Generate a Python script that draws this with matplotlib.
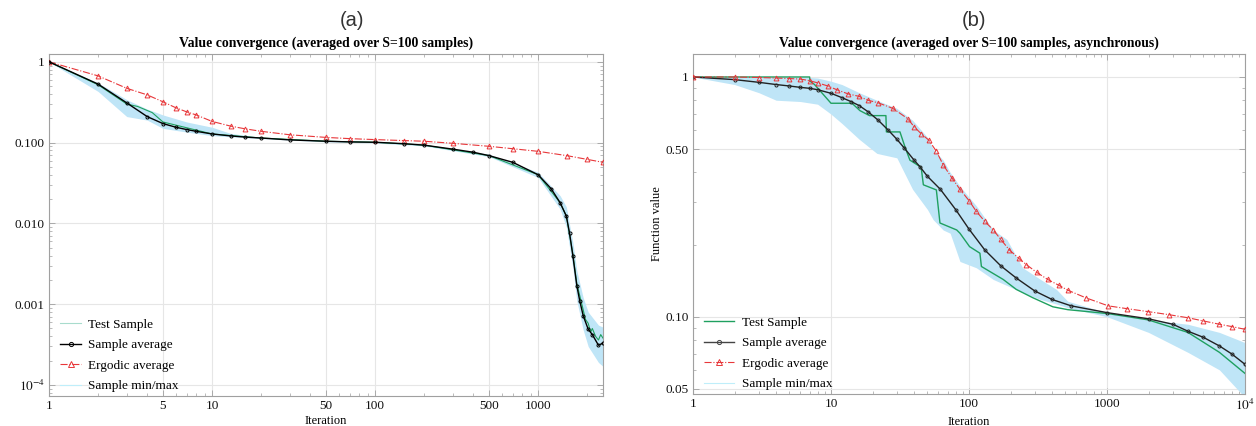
import matplotlib
matplotlib.use("Agg")
import matplotlib.pyplot as plt
from matplotlib.ticker import FixedLocator, NullFormatter, FixedFormatter
from matplotlib.lines import Line2D

plt.rcParams['font.family'] = ['Liberation Serif', 'DejaVu Serif']
plt.rcParams['mathtext.fontset'] = 'stix'

# ---------------- Panel (a) data ----------------
a_avg_it = [1, 2, 3, 4, 5, 6, 7, 8, 10, 13, 16, 20, 30, 50, 70, 100, 150, 200, 300, 400,
            500, 700, 1000, 1200, 1365, 1490, 1560, 1633, 1727, 1800, 1890, 2028, 2150, 2345, 2500]
a_avg_val = [1.0, 0.53, 0.31, 0.21, 0.172, 0.155, 0.145, 0.138, 0.128, 0.121, 0.117, 0.114, 0.108,
             0.104, 0.102, 0.101, 0.097, 0.093, 0.083, 0.076, 0.069, 0.057, 0.040, 0.027, 0.018,
             0.0123, 0.0075, 0.0040, 0.0017, 0.0011, 0.00072, 0.00049, 0.00042, 0.00031, 0.00033]

a_erg_it = [1, 2, 3, 4, 5, 6, 7, 8, 10, 13, 16, 20, 30, 50, 70, 100, 150, 200, 300, 500,
            700, 1000, 1500, 2000, 2500]
a_erg_val = [1.0, 0.67, 0.47, 0.39, 0.32, 0.27, 0.24, 0.22, 0.183, 0.160, 0.148, 0.138, 0.125,
             0.116, 0.112, 0.109, 0.106, 0.104, 0.098, 0.090, 0.084, 0.078, 0.069, 0.062, 0.057]

a_test_it = [1, 2, 3, 3.5, 4.3, 5, 10, 20, 50, 100, 200, 500, 1000, 1365, 1490, 1633, 1727,
             1890, 1950, 2028, 2100, 2150, 2250, 2345, 2420, 2500]
a_test_val = [1.0, 0.52, 0.30, 0.28, 0.235, 0.18, 0.128, 0.114, 0.104, 0.101, 0.093, 0.069,
              0.040, 0.018, 0.0123, 0.0042, 0.0018, 0.00085, 0.00065, 0.00058, 0.00045, 0.00050,
              0.00040, 0.00036, 0.00042, 0.00038]

a_band_it = [1, 2, 3, 4, 5, 7, 10, 13, 20, 50, 100, 200, 500, 1000, 1365, 1490, 1633, 1727,
             1890, 2028, 2345, 2500]
a_band_hi = [1.0, 0.55, 0.34, 0.26, 0.22, 0.18, 0.155, 0.13, 0.116, 0.106, 0.103, 0.095, 0.072,
             0.043, 0.022, 0.016, 0.0058, 0.0026, 0.0012, 0.00080, 0.00055, 0.00052]
a_band_lo = [1.0, 0.43, 0.21, 0.19, 0.15, 0.135, 0.122, 0.118, 0.112, 0.102, 0.099, 0.091, 0.067,
             0.037, 0.015, 0.009, 0.0028, 0.0011, 0.00048, 0.00030, 0.00019, 0.00017]

a_xticks = [1, 5, 10, 50, 100, 500, 1000]
a_xlabels = ['1', '5', '10', '50', '100', '500', '1000']
a_yticks = [1, 0.1, 0.01, 0.001, 0.0001]
a_ylabels = ['1', '0.100', '0.010', '0.001', r'$10^{-4}$']

# ---------------- Panel (b) data ----------------
b_avg_it = [1, 2, 3, 4, 5, 6, 7, 8, 10, 12, 14, 16, 18.5, 22, 26, 30, 34, 40, 44, 50, 62, 80,
            100, 130, 170, 220, 300, 400, 550, 1000, 2000, 3000, 3860, 5000, 6530, 8000, 10000]
b_avg_val = [1.0, 0.975, 0.95, 0.93, 0.917, 0.905, 0.897, 0.885, 0.855, 0.82, 0.789, 0.76, 0.717,
             0.66, 0.60, 0.55, 0.505, 0.45, 0.423, 0.385, 0.34, 0.28, 0.232, 0.19, 0.163, 0.145,
             0.128, 0.118, 0.111, 0.104, 0.098, 0.093, 0.087, 0.082, 0.0755, 0.070, 0.0633]

b_erg_it = [1, 2, 3, 4, 5, 6, 7, 8, 9.5, 11, 13.3, 16, 18.5, 22, 28, 36, 40, 45, 51, 58, 65, 75,
            86, 100, 113, 130, 150, 170, 196, 230, 260, 310, 372, 450, 520, 700, 1020, 1400,
            1990, 2800, 3860, 5000, 6530, 8000, 10000]
b_erg_val = [1.0, 1.0, 0.995, 0.99, 0.985, 0.98, 0.965, 0.945, 0.917, 0.885, 0.85, 0.83, 0.80,
             0.78, 0.74, 0.67, 0.62, 0.58, 0.546, 0.49, 0.43, 0.38, 0.34, 0.305, 0.275, 0.25,
             0.23, 0.21, 0.19, 0.175, 0.165, 0.153, 0.143, 0.135, 0.129, 0.12, 0.111, 0.108,
             0.105, 0.102, 0.099, 0.096, 0.093, 0.091, 0.0886]

b_test_it = [1, 7, 7.05, 7.6, 10, 14.2, 16.2, 19, 25, 25.2, 31.6, 34.4, 37.3, 45, 46.7, 58, 61.6,
             81.5, 86, 101, 120, 123, 177, 220, 290, 405, 520, 1020, 1990, 3860, 6530, 10000]
b_test_val = [1.0, 1.0, 0.96, 0.93, 0.777, 0.777, 0.724, 0.69, 0.69, 0.59, 0.59, 0.51, 0.45,
              0.42, 0.355, 0.338, 0.246, 0.23, 0.223, 0.196, 0.184, 0.162, 0.143, 0.13, 0.12,
              0.11, 0.107, 0.103, 0.097, 0.086, 0.071, 0.058]

b_band_it = [1, 2, 3, 4, 6, 8, 10, 12, 16, 21.5, 30, 39, 50, 55, 65, 73, 86, 113, 150, 188, 245,
             330, 430, 520, 1000, 2000, 3860, 6530, 10000]
b_band_hi = [1.0, 1.0, 1.0, 1.0, 1.0, 0.99, 0.96, 0.93, 0.86, 0.80, 0.74, 0.66, 0.56, 0.50, 0.45,
             0.40, 0.35, 0.29, 0.23, 0.21, 0.16, 0.143, 0.13, 0.116, 0.104, 0.097, 0.093, 0.086,
             0.078]
b_band_lo = [1.0, 0.93, 0.86, 0.80, 0.79, 0.77, 0.70, 0.64, 0.55, 0.48, 0.46, 0.34, 0.28, 0.254,
             0.23, 0.223, 0.17, 0.16, 0.143, 0.135, 0.126, 0.118, 0.113, 0.109, 0.100, 0.086,
             0.071, 0.060, 0.046]

b_xticks = [1, 10, 100, 1000, 10000]
b_xlabels = ['1', '10', '100', '1000', r'$10^4$']
b_yticks = [1, 0.5, 0.1, 0.05]
b_ylabels = ['1', '0.50', '0.10', '0.05']

labels = ['Test Sample', 'Sample average', 'Ergodic average', 'Sample min/max']

# ---------------- Styling ----------------
BAND = '#bfe5f7'
GREEN = '#1fa060'
RED = '#e8373a'
FRAME = '#a0a0a0'
GRID = '#e6e6e6'

fig = plt.figure(figsize=(12.56, 4.26), dpi=100)
axA = fig.add_axes([49 / 1256, 1 - 396 / 426, 554 / 1256, 342 / 426])
axB = fig.add_axes([693 / 1256, 1 - 394 / 426, 552 / 1256, 340 / 426])


def minor_positions(lo_exp, hi_exp, majors):
    pos = []
    for e in range(lo_exp, hi_exp + 1):
        for m in range(1, 10):
            v = m * 10.0 ** e
            if all(abs(v - t) > 1e-12 * max(v, 1e-12) for t in majors):
                pos.append(v)
    return pos


def style(ax, xticks, xlabels, yticks, ylabels, xlim, ylim, xminor, yminor):
    ax.set_xscale('log')
    ax.set_yscale('log')
    ax.set_xlim(*xlim)
    ax.set_ylim(*ylim)
    ax.xaxis.set_major_locator(FixedLocator(xticks))
    ax.xaxis.set_major_formatter(FixedFormatter(xlabels))
    ax.yaxis.set_major_locator(FixedLocator(yticks))
    ax.yaxis.set_major_formatter(FixedFormatter(ylabels))
    ax.xaxis.set_minor_locator(FixedLocator(xminor))
    ax.yaxis.set_minor_locator(FixedLocator(yminor))
    ax.xaxis.set_minor_formatter(NullFormatter())
    ax.yaxis.set_minor_formatter(NullFormatter())
    ax.tick_params(which='both', direction='in', top=True, right=True, color=FRAME,
                   labelsize=9.5, labelcolor='#111111')
    ax.tick_params(which='major', length=4, width=0.6, pad=3)
    ax.tick_params(which='minor', length=2, width=0.5)
    for s in ax.spines.values():
        s.set_color(FRAME)
        s.set_linewidth(0.8)
    ax.grid(True, which='major', color=GRID, linewidth=0.8)
    ax.set_axisbelow(True)
    ax.set_xlabel('Iteration', fontsize=9, labelpad=2)


# ----- Panel (a)
axA.fill_between(a_band_it, a_band_lo, a_band_hi, color=BAND, lw=0, zorder=1)
axA.plot(a_test_it, a_test_val, color=GREEN, lw=0.8, zorder=2)
axA.plot(a_erg_it, a_erg_val, color=RED, lw=0.8, ls='-.', marker='^', ms=3.5,
         mfc='none', mew=0.7, zorder=3)
axA.plot(a_avg_it, a_avg_val, color='black', lw=1.0, marker='o', ms=2.2,
         mfc='none', mew=0.7, zorder=4)
style(axA, a_xticks, a_xlabels, a_yticks, a_ylabels, (1, 2500), (7.3e-5, 1.25),
      [v for v in minor_positions(0, 3, a_xticks) if v <= 2500], minor_positions(-5, 0, a_yticks))
axA.set_title('Value convergence (averaged over S=100 samples)', fontsize=9.9,
              fontweight='bold', pad=5)
fig.text(352 / 1256, 1 - 21 / 426, '(a)', ha='center', va='center', fontsize=14.5,
         family='Liberation Sans', color='#333333')

handlesA = [Line2D([], [], color='#a8dccd', lw=0.8),
            Line2D([], [], color='black', lw=1.0, marker='o', ms=3, mfc='none', mew=0.7),
            Line2D([], [], color=RED, lw=0.8, ls='-.', marker='^', ms=4.5, mfc='none', mew=0.7),
            Line2D([], [], color='#bfeefa', lw=0.8)]
axA.legend(handlesA, labels, loc='lower left', bbox_to_anchor=(0.02, 0.011), frameon=False,
           fontsize=9.5, borderpad=0, borderaxespad=0, handlelength=1.6, handletextpad=0.5,
           labelspacing=0.62)

# ----- Panel (b)
axB.fill_between(b_band_it, b_band_lo, b_band_hi, color=BAND, lw=0, zorder=1)
axB.plot(b_test_it, b_test_val, color=GREEN, lw=1.0, zorder=2)
axB.plot(b_avg_it, b_avg_val, color='#222222', lw=1.0, marker='o', ms=2.2,
         mfc='none', mew=0.7, zorder=3)
axB.plot(b_erg_it, b_erg_val, color=RED, lw=0.8, ls='-.', marker='^', ms=3.5,
         mfc='none', mew=0.7, zorder=4)
style(axB, b_xticks, b_xlabels, b_yticks, b_ylabels, (1, 10000), (0.0476, 1.247),
      minor_positions(0, 3, b_xticks), minor_positions(-2, 0, b_yticks))
axB.set_ylabel('Function value', fontsize=9, labelpad=2)
axB.set_title('Value convergence (averaged over S=100 samples, asynchronous)', fontsize=9.8,
              fontweight='bold', pad=5)
fig.text(974 / 1256, 1 - 21 / 426, '(b)', ha='center', va='center', fontsize=14.5,
         family='Liberation Sans', color='#333333')

handlesB = [Line2D([], [], color=GREEN, lw=1.0),
            Line2D([], [], color='#444444', lw=1.0, marker='o', ms=3, mfc='none', mew=0.7),
            Line2D([], [], color=RED, lw=0.8, ls='-.', marker='^', ms=4.5, mfc='none', mew=0.7),
            Line2D([], [], color='#bfeefa', lw=0.8)]
axB.legend(handlesB, labels, loc='lower left', bbox_to_anchor=(0.02, 0.011), frameon=False,
           fontsize=9.5, borderpad=0, borderaxespad=0, handlelength=2.3, handletextpad=0.55,
           labelspacing=0.62)

fig.savefig('out.png', dpi=100)
